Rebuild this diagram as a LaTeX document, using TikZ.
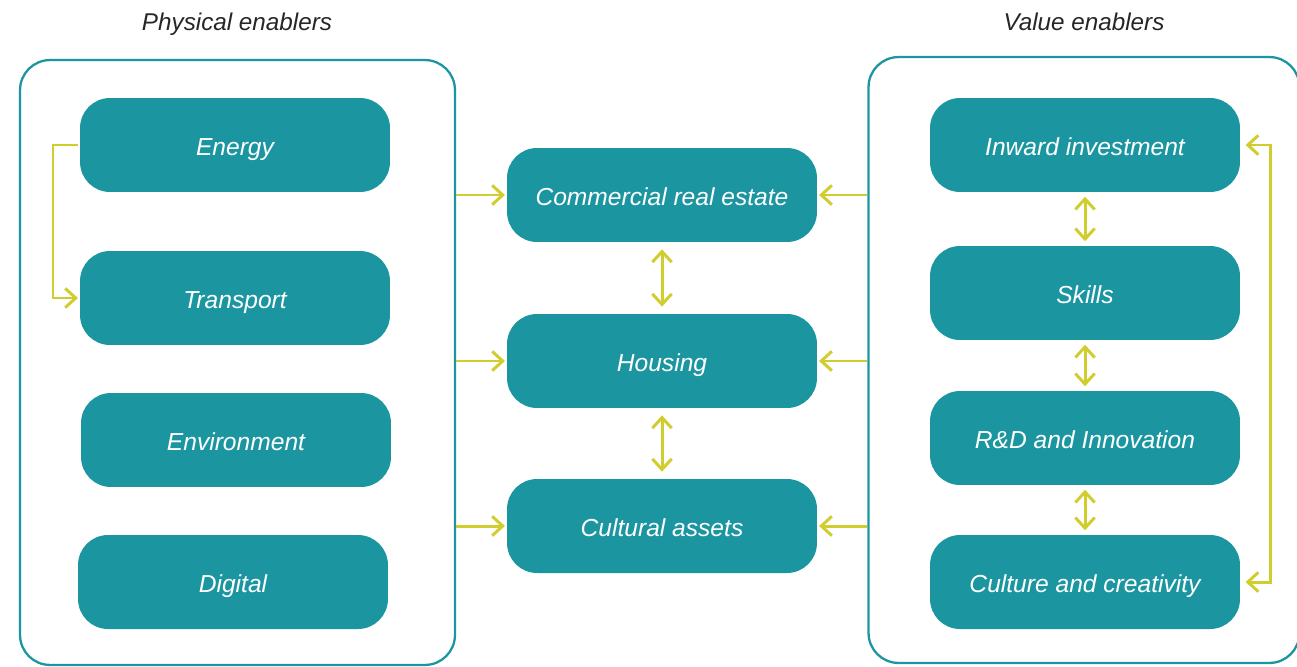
\documentclass[tikz,border=0pt]{standalone}
\usepackage{fontspec}
\setmainfont{Liberation Sans}
\usetikzlibrary{arrows.meta}
\definecolor{tealbox}{HTML}{1B96A1}
\definecolor{linkyellow}{HTML}{D2CD2E}
\tikzset{
    box/.style={rounded corners=0.6cm, fill=tealbox, text=white, minimum width=6.2cm, minimum height=1.88cm, text height=12.5pt, text depth=0pt, font=\fontsize{14}{16}\selectfont\itshape},
    frame/.style={draw=tealbox, line width=1.3pt, rounded corners=0.6cm},
    heading/.style={font=\fontsize{13.8}{16}\selectfont\itshape, text=black!85, anchor=base},
    link/.style={draw=linkyellow, line width=1.7pt, -{Straight Barb[length=6pt,width=11pt]}},
    dlink/.style={link, {Straight Barb[length=6pt,width=11pt]}-{Straight Barb[length=6pt,width=11pt]}}
}
\begin{document}
\begin{tikzpicture}[x=0.02cm, y=-0.02cm]
    \useasboundingbox (0,0) rectangle (1297,666);
    % Frames
    \node[frame, minimum width=8.7cm, minimum height=12.1cm] (phys) at (237.5,362.5) {};
    \node[frame, minimum width=8.62cm, minimum height=12.12cm] (val) at (1084,360) {};
    \node[heading] (physT) at (237,31) {Physical enablers};
    \node[heading] (valT) at (1084,31) {Value enablers};
    % Physical enablers
    \node[box] (energy) at (235,145) {Energy};
    \node[box] (transport) at (235,298) {Transport};
    \node[box] (environ) at (236,440) {Environment};
    \node[box] (digital) at (233,582) {Digital};
    % Middle
    \node[box] (realestate) at (662,195) {Commercial real estate};
    \node[box] (housing) at (662,361) {Housing};
    \node[box] (cultural) at (662,526) {Cultural assets};
    % Value enablers
    \node[box] (inward) at (1085,145) {Inward investment};
    \node[box] (skills) at (1085,293) {Skills};
    \node[box] (rnd) at (1085,438) {R\&D and Innovation};
    \node[box] (culture) at (1085,582) {Culture and creativity};
    \coordinate (loopL) at (53,0);
    \coordinate (loopR) at (1270,0);
    % Links from frames
    \foreach \m in {realestate,housing,cultural}{
        \draw[link, shorten >=1pt] (phys.east |- \m.west) -- (\m.west);
        \draw[link, shorten >=1pt] (val.west |- \m.east) -- (\m.east);
    }
    % Links between boxes
    \draw[dlink, shorten <=4pt, shorten >=4pt] (realestate) -- (housing);
    \draw[dlink, shorten <=4pt, shorten >=4pt] (housing) -- (cultural);
    \draw[dlink, shorten <=2.5pt, shorten >=2.5pt] (inward) -- (skills);
    \draw[dlink, shorten <=2.5pt, shorten >=2.5pt] (skills) -- (rnd);
    \draw[dlink, shorten <=2.5pt, shorten >=2.5pt] (rnd) -- (culture);
    \draw[link, shorten <=1pt, shorten >=1pt] (energy.west) -- (energy.west -| loopL) -- (transport.west -| loopL) -- (transport.west);
    \draw[dlink, shorten <=3pt, shorten >=3pt] (inward.east) -- (inward.east -| loopR) -- (culture.east -| loopR) -- (culture.east);
\end{tikzpicture}
\end{document}
